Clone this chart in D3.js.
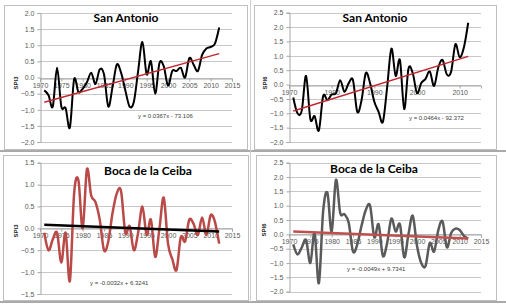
<!DOCTYPE html>
<html>
<head>
<meta charset="utf-8">
<script src="https://cdn.jsdelivr.net/npm/d3@7"></script>
<style>
  body { margin: 0; background: #ffffff; }
  svg { display: block; }
</style>
</head>
<body>
<svg id="chart"></svg>
<script>
const width = 506;
const height = 307;

// years 1971..2012
const years = d3.range(1971, 2013);

const spi3SanAntonio = [-0.4, -0.55, -0.9, 0.3, -0.9, -0.95, -1.55, -0.05, -0.45, -0.35,
  -0.15, 0.15, -0.2, 0.25, 0.1, -0.9, -0.3, 0.4, 0.15, -0.4,
  -0.9, -0.75, 0.2, 1.1, 0.1, 0.5, -0.5, 0.45, 0.35, -0.25,
  0.2, 0.2, 0.3, 0.0, 0.6, 0.4, 0.2, 0.7, 0.9, 0.95,
  1.05, 1.55];

const spi6SanAntonio = [-0.45, -1.0, -0.9, 0.3, -1.2, -1.1, -1.6, -0.4, -0.55, -0.35,
  -0.3, 0.15, -0.25, 0.05, 0.15, -0.95, -0.55, 0.4, 0.05, -0.6,
  -0.95, -1.3, -0.1, 1.25, 0.3, 0.85, -0.85, 0.55, 0.4, -0.3,
  0.05, 0.2, 0.45, -0.05, 0.6, 0.85, 0.35, 0.45, 1.4, 0.95,
  1.3, 2.15];

const spi3Boca = [-0.1, -0.5, -0.25, -0.1, -0.78, -0.1, -1.2, 0.8, 1.1, 0.0,
  1.35, 0.75, 0.6, 0.2, -0.5, -0.3, 0.35, 0.8, 0.85, -0.1,
  0.05, -0.5, -0.1, 0.5, -0.15, 0.2, -0.65, 0.0, 0.7, -0.35,
  -0.7, -0.95, -0.2, -0.3, 0.2, 0.1, -0.15, 0.25, -0.15, 0.3,
  0.15, -0.35];

const spi6Boca = [-0.35, -0.7, -0.45, -0.2, -1.0, 0.05, -1.7, 0.8, 1.45, 0.1,
  1.9, 0.75, 0.7, 0.4, -0.6, -0.35, 0.3, 0.85, 1.0, -0.1,
  0.35, -0.75, -0.3, 0.55, 0.1, 0.35, -0.8, 0.0, 0.65, -0.4,
  -1.0, -1.1, -0.3, -0.6, 0.15, 0.45, -0.45, 0.05, 0.2, 0.15,
  -0.05, -0.15];

// linear trend lines, value at first and last year
const trendSpi3SanAntonio = [-0.77, 0.74];
const trendSpi6SanAntonio = [-0.92, 0.98];
const trendSpi3Boca = [0.08, -0.07];
const trendSpi6Boca = [0.1, -0.14];

const equations = ["y = 0.0367x - 73.106", "y = 0.0464x - 92.372",
  "y = -0.0032x + 6.3241", "y = -0.0049x + 9.7341"];

const titles = ["San Antonio", "San Antonio", "Boca de la Ceiba", "Boca de la Ceiba"];
const yTitles = ["SPI3", "SPI6", "SPI3", "SPI6"];

const xTicks5 = [1970, 1975, 1980, 1985, 1990, 1995, 2000, 2005, 2010, 2015];
const xTicks10 = [1970, 1980, 1990, 2000, 2010];
const yTicksA = [-2.0, -1.5, -1.0, -0.5, 0.0, 0.5, 1.0, 1.5, 2.0];
const yTicksB = [-2.0, -1.5, -1.0, -0.5, 0.0, 0.5, 1.0, 1.5, 2.0, 2.5];
const yTicksC = [-1.5, -1.0, -0.5, 0.0, 0.5, 1.0, 1.5];

const svg = d3.select("#chart")
  .attr("width", width)
  .attr("height", height);

const panels = [
  { box: [4, 5, 243, 144], px: [40, 232], py: [142, 13], yTicks: yTicksA, xTicks: xTicks5,
    values: spi3SanAntonio, trend: trendSpi3SanAntonio, lineColor: "#000000", trendColor: "#c0272d",
    lineW: 2, trendW: 1.5, title: [126, 21.5], eq: [138, 118], yt: [18, 83] },
  { box: [254, 5, 242, 144], px: [289, 481], py: [142, 12.7], yTicks: yTicksB, xTicks: xTicks10,
    values: spi6SanAntonio, trend: trendSpi6SanAntonio, lineColor: "#000000", trendColor: "#c0272d",
    lineW: 2, trendW: 1.5, title: [375, 21.5], eq: [409, 120], yt: [267, 83] },
  { box: [3, 155, 245, 145], px: [40, 232], py: [294, 162.7], yTicks: yTicksC, xTicks: xTicks5,
    values: spi3Boca, trend: trendSpi3Boca, lineColor: "#b94a48", trendColor: "#000000",
    lineW: 2.5, trendW: 2.5, title: [148, 175], eq: [90, 285], yt: [18, 231] },
  { box: [256, 155, 240, 145], px: [289, 481], py: [291.7, 162.7], yTicks: yTicksB, xTicks: xTicks5,
    values: spi6Boca, trend: trendSpi6Boca, lineColor: "#5a5a5a", trendColor: "#c0504d",
    lineW: 2.5, trendW: 2.5, title: [374, 173], eq: [347, 271], yt: [266, 230] }
];

// table cell borders round the panels
svg.append("line")
  .attr("x1", 0).attr("x2", width)
  .attr("y1", 151).attr("y2", 151)
  .attr("stroke", "#555555").attr("stroke-width", 1);
svg.append("line")
  .attr("x1", 0).attr("x2", width)
  .attr("y1", 302).attr("y2", 302)
  .attr("stroke", "#555555").attr("stroke-width", 1);
svg.append("line")
  .attr("x1", 250.5).attr("x2", 250.5)
  .attr("y1", 0).attr("y2", 302)
  .attr("stroke", "#d0d0d0").attr("stroke-width", 1);

panels.forEach((p, i) => {
  const g = svg.append("g");

  g.append("rect")
    .attr("x", p.box[0] + 0.5).attr("y", p.box[1] + 0.5)
    .attr("width", p.box[2]).attr("height", p.box[3])
    .attr("fill", "#ffffff")
    .attr("stroke", "#bfbfbf");

  const yDom = d3.extent(p.yTicks);
  const x = d3.scaleLinear().domain([1970, 2015]).range(p.px);
  const y = d3.scaleLinear().domain(yDom).range(p.py);

  // horizontal gridlines
  g.append("g")
    .selectAll("line")
    .data(p.yTicks)
    .enter()
    .append("line")
    .attr("x1", p.px[0]).attr("x2", p.px[1])
    .attr("y1", d => Math.round(y(d)) + 0.5).attr("y2", d => Math.round(y(d)) + 0.5)
    .attr("stroke", "#c8c8c8").attr("stroke-width", 1);

  // y axis
  const yAxis = d3.axisLeft(y)
    .tickValues(p.yTicks)
    .tickSize(3)
    .tickPadding(3)
    .tickFormat(d3.format(".1f"));

  const ya = g.append("g")
    .attr("transform", "translate(" + (Math.round(p.px[0]) + 0.5) + ",0)")
    .call(yAxis);
  ya.select(".domain").attr("stroke", "#a6a6a6");
  ya.selectAll(".tick line").attr("stroke", "#a6a6a6");
  ya.selectAll("text")
    .attr("fill", "#595959")
    .style("font-family", "Liberation Sans, Arial, sans-serif")
    .style("font-size", "7px");

  // x axis crossing at zero
  const xAxis = d3.axisBottom(x)
    .tickValues(p.xTicks)
    .tickSize(3)
    .tickPadding(2)
    .tickFormat(d3.format("d"));

  const xa = g.append("g")
    .attr("transform", "translate(0," + (Math.round(y(0)) + 0.5) + ")")
    .call(xAxis);
  xa.select(".domain").attr("stroke", "#a6a6a6");
  xa.selectAll(".tick line").attr("stroke", "#a6a6a6");
  xa.selectAll("text")
    .attr("fill", "#595959")
    .style("font-family", "Liberation Sans, Arial, sans-serif")
    .style("font-size", "7px");

  // series
  const line = d3.line()
    .x((d, j) => x(years[j]))
    .y(d => y(d))
    .curve(d3.curveCardinal.tension(0));

  g.append("path")
    .datum(p.values)
    .attr("d", line)
    .attr("fill", "none")
    .attr("stroke", p.lineColor)
    .attr("stroke-width", p.lineW)
    .attr("stroke-linejoin", "round");

  // trend line
  g.append("line")
    .attr("x1", x(years[0])).attr("y1", y(p.trend[0]))
    .attr("x2", x(years[years.length - 1])).attr("y2", y(p.trend[1]))
    .attr("stroke", p.trendColor)
    .attr("stroke-width", p.trendW);

  // title
  g.append("text")
    .attr("x", p.title[0]).attr("y", p.title[1])
    .attr("text-anchor", "middle")
    .style("font-family", "Lato, sans-serif")
    .style("font-weight", "bold")
    .style("font-size", "12px")
    .attr("fill", "#000000")
    .text(titles[i]);

  // equation
  g.append("text")
    .attr("x", p.eq[0]).attr("y", p.eq[1])
    .style("font-family", "Liberation Sans, Arial, sans-serif")
    .style("font-size", "6px")
    .attr("fill", "#404040")
    .text(equations[i]);

  // y axis title
  g.append("text")
    .attr("transform", "translate(" + p.yt[0] + "," + p.yt[1] + ") rotate(-90)")
    .attr("text-anchor", "middle")
    .style("font-family", "Liberation Sans, Arial, sans-serif")
    .style("font-weight", "bold")
    .style("font-size", "6px")
    .attr("fill", "#262626")
    .text(yTitles[i]);
});
</script>
</body>
</html>
